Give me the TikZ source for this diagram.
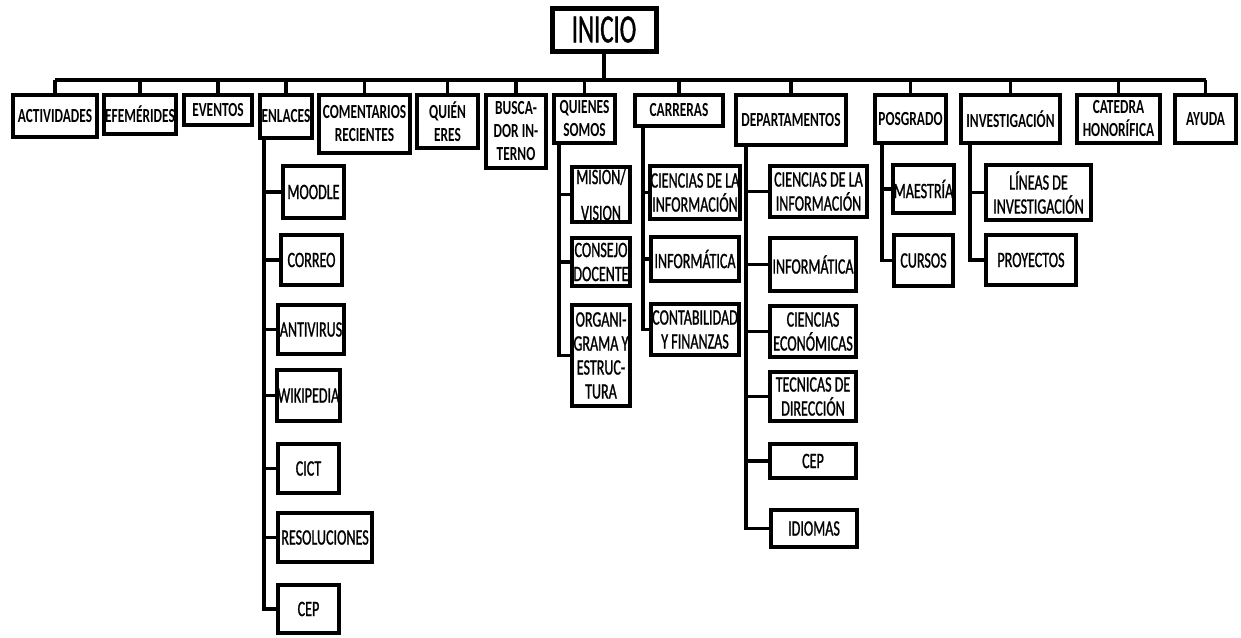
\documentclass[tikz,border=0pt]{standalone}
\usepackage{fontspec}
\setmainfont{Carlito}[FakeStretch=0.67]
\newfontfamily\subf{Carlito}[FakeStretch=0.64, FakeBold=1]
\newfontfamily\rootf{Carlito}[FakeStretch=0.62, FakeBold=1]
\newcommand\bx[7][]{\node[#1, minimum width={#5-#3-4}, minimum height={#6-#4-4}] (#2) at ({(#3+#5)/2},{(#4+#6)/2}) {#7};}
\begin{document}
\begin{tikzpicture}[x=1pt,y=-1pt,
  box/.style={draw=black, line width=4pt, inner xsep=1pt, inner ysep=0pt, align=center, font=\fontsize{20}{23}\selectfont\bfseries},
  sub/.style={box, font=\subf\fontsize{22}{24}\selectfont},
  conn/.style={line width=3.5pt},
  busline/.style={line width=4.5pt}]
\useasboundingbox (0,0) rectangle (1241,637);
% root
\bx[box, line width=5pt, font=\rootf\fontsize{40}{42}\selectfont]{ini}{550}{6}{658}{53}{INICIO}
% top level
\bx[box]{act}{11}{93}{99}{139}{ACTIVIDADES}
\bx[box]{efe}{102}{93}{178}{136}{EFEMÉRIDES}
\bx[box]{eve}{182}{93}{254}{127}{EVENTOS}
\bx[box]{enl}{258}{93}{314}{140}{ENLACES}
\bx[box]{com}{317}{93}{412}{155}{COMENTARIOS\\RECIENTES}
\bx[box]{qui}{415}{93}{480}{150}{QUIÉN\\ERES}
\bx[box]{bus}{484}{93}{548}{170}{BUSCA-\\DOR IN-\\TERNO}
\bx[box]{qso}{552}{93}{617}{145}{QUIENES\\SOMOS}
\bx[box]{car}{633}{93}{725}{128}{CARRERAS}
\bx[box]{dep}{734}{93}{848}{147}{DEPARTAMENTOS}
\bx[box]{pos}{873}{93}{948}{145}{POSGRADO}
\bx[box]{inv}{959}{93}{1062}{145}{INVESTIGACIÓN}
\bx[box]{cat}{1075}{93}{1162}{145}{CATEDRA\\HONORÍFICA}
\bx[box]{ayu}{1173}{93}{1238}{145}{AYUDA}
% bus
\coordinate (busy) at (0,80);
\draw[line width=4pt] (ini.south) -- (ini.south |- busy);
\draw[busline] (act.north |- busy) -- (ayu.north |- busy);
\foreach \n in {act,efe,eve,enl,com,qui,bus,qso,car,dep,pos,inv,cat,ayu}
  \draw[conn] (\n.north |- busy) -- (\n.north);
% ENLACES children
\bx[sub]{moo}{281}{164}{346}{220}{MOODLE}
\bx[sub]{cor}{279}{233}{344}{287}{CORREO}
\bx[sub]{ant}{276}{303}{346}{356}{ANTIVIRUS}
\bx[sub]{wik}{276}{368}{341}{423}{WIKIPEDIA}
\bx[sub]{cic}{276}{442}{341}{495}{CICT}
\bx[sub]{res}{276}{511}{374}{564}{RESOLUCIONES}
\bx[sub]{cepa}{276}{583}{341}{635}{CEP}
\coordinate (enlv) at (264,138);
\draw[conn] (enlv) |- (cepa.west);
\foreach \n in {moo,cor,ant,wik,cic,res} \draw[conn] (enlv |- \n.west) -- (\n.west);
% QUIENES SOMOS children
\bx[sub]{mis}{570}{165}{632}{224}{MISION/\\[12pt]VISION}
\bx[sub]{con}{570}{236}{632}{288}{CONSEJO\\DOCENTE}
\bx[sub]{org}{570}{303}{632}{408}{ORGANI-\\GRAMA Y\\ESTRUC-\\TURA}
\coordinate (qsov) at (559,143);
\draw[conn] (qsov) |- (org.west);
\foreach \n in {mis,con} \draw[conn] (qsov |- \n.west) -- (\n.west);
% CARRERAS children
\bx[sub]{cia}{649}{164}{741}{221}{CIENCIAS DE LA\\INFORMACIÓN}
\bx[sub]{ina}{649}{235}{741}{283}{INFORMÁTICA}
\bx[sub]{cfi}{649}{302}{741}{357}{CONTABILIDAD\\Y FINANZAS}
\coordinate (carv) at (643,126);
\draw[conn] (carv) |- (cfi.west);
\foreach \n in {cia,ina} \draw[conn] (carv |- \n.west) -- (\n.west);
% DEPARTAMENTOS children
\bx[sub]{cib}{768}{164}{869}{219}{CIENCIAS DE LA\\INFORMACIÓN}
\bx[sub]{inb}{768}{236}{858}{293}{INFORMÁTICA}
\bx[sub]{cec}{768}{304}{858}{359}{CIENCIAS\\ECONÓMICAS}
\bx[sub]{tec}{768}{370}{858}{423}{TECNICAS DE\\DIRECCIÓN}
\bx[sub]{cepb}{768}{442}{858}{480}{CEP}
\bx[sub]{idi}{769}{508}{859}{549}{IDIOMAS}
\coordinate (depv) at (746,145);
\draw[conn] (depv) |- (idi.west);
\foreach \n in {cib,inb,cec,tec,cepb} \draw[conn] (depv |- \n.west) -- (\n.west);
% POSGRADO children
\bx[sub]{mae}{892}{163}{955}{215}{MAESTRÍA}
\bx[sub]{cur}{892}{233}{955}{288}{CURSOS}
\coordinate (posv) at (882,143);
\draw[conn] (posv) |- (cur.west);
\draw[conn] (posv |- mae.west) -- (mae.west);
% INVESTIGACION children
\bx[sub]{lin}{984}{163}{1093}{222}{LÍNEAS DE\\INVESTIGACIÓN}
\bx[sub]{pro}{984}{233}{1078}{287}{PROYECTOS}
\coordinate (invv) at (970,143);
\draw[conn] (invv) |- (pro.west);
\draw[conn] (invv |- lin.west) -- (lin.west);
\end{tikzpicture}
\end{document}
